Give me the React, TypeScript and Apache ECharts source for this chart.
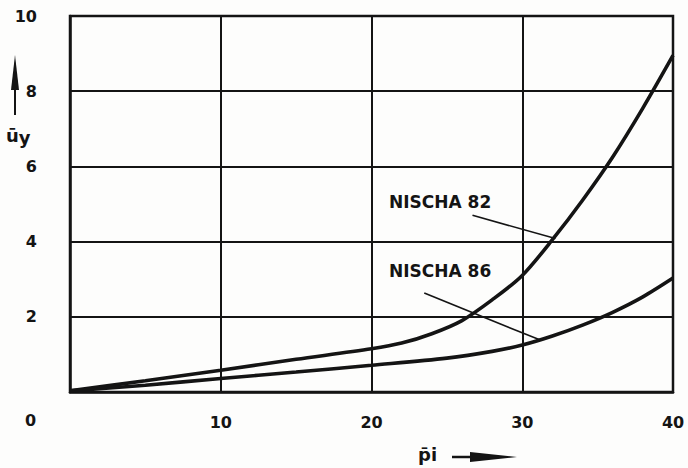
import React, { useEffect, useRef } from "react";
import * as echarts from "echarts";

const xTicks = [0, 10, 20, 30, 40];
const yTicks = [0, 2, 4, 6, 8, 10];
const x82 = [0, 5, 10, 15, 20, 22, 24, 26, 28, 30, 32, 34, 36, 38, 40];
const y82 = [0.03, 0.3, 0.58, 0.87, 1.15, 1.3, 1.55, 1.9, 2.45, 3.1, 4.05, 5.1, 6.25, 7.55, 8.95];
const x86 = [0, 5, 10, 15, 20, 25, 28, 30, 32, 34, 36, 38, 40];
const y86 = [0.03, 0.18, 0.36, 0.53, 0.71, 0.9, 1.08, 1.25, 1.49, 1.78, 2.12, 2.53, 3.03];
const seriesNames = ["NISCHA 82", "NISCHA 86"];
const leader82 = [[26.7, 4.7], [32.2, 4.08]];
const leader86 = [[23.5, 2.63], [31.2, 1.38]];

const INK = "#141414";
const FONT = "DejaVu Sans";

export default function App() {
  const ref = useRef<HTMLDivElement>(null);
  useEffect(() => {
    const chart = echarts.init(ref.current!, null, { renderer: "svg" });
    const mk = (xs: number[], ys: number[]) => xs.map((x, i) => [x, ys[i]]);
    chart.setOption({
      animation: false,
      backgroundColor: "#fdfdfc",
      grid: {
        left: 70, right: 15, top: 16, bottom: 76,
        show: true, borderColor: INK, borderWidth: 2.5,
      },
      xAxis: {
        type: "value", min: xTicks[0], max: xTicks[xTicks.length - 1], interval: 10,
        axisLine: { show: true, lineStyle: { color: INK, width: 2.5 } },
        axisTick: { show: false },
        splitLine: { show: true, lineStyle: { color: INK, width: 2 } },
        axisLabel: {
          margin: 22, color: INK, fontFamily: FONT, fontWeight: "bold", fontSize: 16,
          formatter: (v: number) => (v === 0 ? "" : String(v)),
        },
      },
      yAxis: {
        type: "value", min: yTicks[0], max: yTicks[yTicks.length - 1], interval: 2,
        axisLine: { show: true, lineStyle: { color: INK, width: 2.5 } },
        axisTick: { show: false },
        splitLine: { show: true, lineStyle: { color: INK, width: 2 } },
        axisLabel: {
          margin: 33, color: INK, fontFamily: FONT, fontWeight: "bold", fontSize: 16,
          formatter: (v: number) => (v === 0 ? "" : String(v)),
        },
      },
      series: [
        {
          name: seriesNames[0], type: "line", data: mk(x82, y82), smooth: 0.3,
          showSymbol: false,
          lineStyle: { color: INK, width: 3.6 },
          markLine: {
            silent: true, symbol: "none", label: { show: false },
            lineStyle: { color: INK, width: 1.6, type: "solid" },
            data: [[{ coord: leader82[0] }, { coord: leader82[1] }]],
          },
        },
        {
          name: seriesNames[1], type: "line", data: mk(x86, y86), smooth: 0.3,
          showSymbol: false,
          lineStyle: { color: INK, width: 3.6 },
          markLine: {
            silent: true, symbol: "none", label: { show: false },
            lineStyle: { color: INK, width: 1.6, type: "solid" },
            data: [[{ coord: leader86[0] }, { coord: leader86[1] }]],
          },
        },
      ],
      graphic: [
        { type: "text", left: 389, top: 193, style: { text: seriesNames[0], fill: INK, font: `bold 17px '${FONT}'` } },
        { type: "text", left: 389, top: 262, style: { text: seriesNames[1], fill: INK, font: `bold 17px '${FONT}'` } },
        { type: "text", left: 25, top: 412, style: { text: "0", fill: INK, font: `bold 16px '${FONT}'` } },
        // y-axis arrow and name
        { type: "polygon", shape: { points: [[15, 55], [11, 90], [19, 90]] }, style: { fill: INK } },
        { type: "line", shape: { x1: 15, y1: 88, x2: 15, y2: 115 }, style: { stroke: INK, lineWidth: 2 } },
        {
          type: "text", left: 6, top: 126,
          style: {
            text: "{a|ū}{b|y}", fill: INK,
            rich: {
              a: { font: `bold 18px '${FONT}'`, fill: INK },
              b: { font: `bold 18px '${FONT}'`, fill: INK, padding: [5, 0, 0, 0] },
            },
          },
        },
        // x-axis name and arrow
        { type: "text", left: 418, top: 445, style: { text: "p̄i", fill: INK, font: `bold 18px '${FONT}'` } },
        { type: "line", shape: { x1: 452, y1: 457, x2: 474, y2: 457 }, style: { stroke: INK, lineWidth: 2.5 } },
        { type: "polygon", shape: { points: [[517, 457], [470, 452], [470, 462]] }, style: { fill: INK } },
      ],
    });
    return () => chart.dispose();
  }, []);
  return <div ref={ref} style={{ position: "fixed", left: 0, top: 0, width: 688, height: 468 }} />;
}
